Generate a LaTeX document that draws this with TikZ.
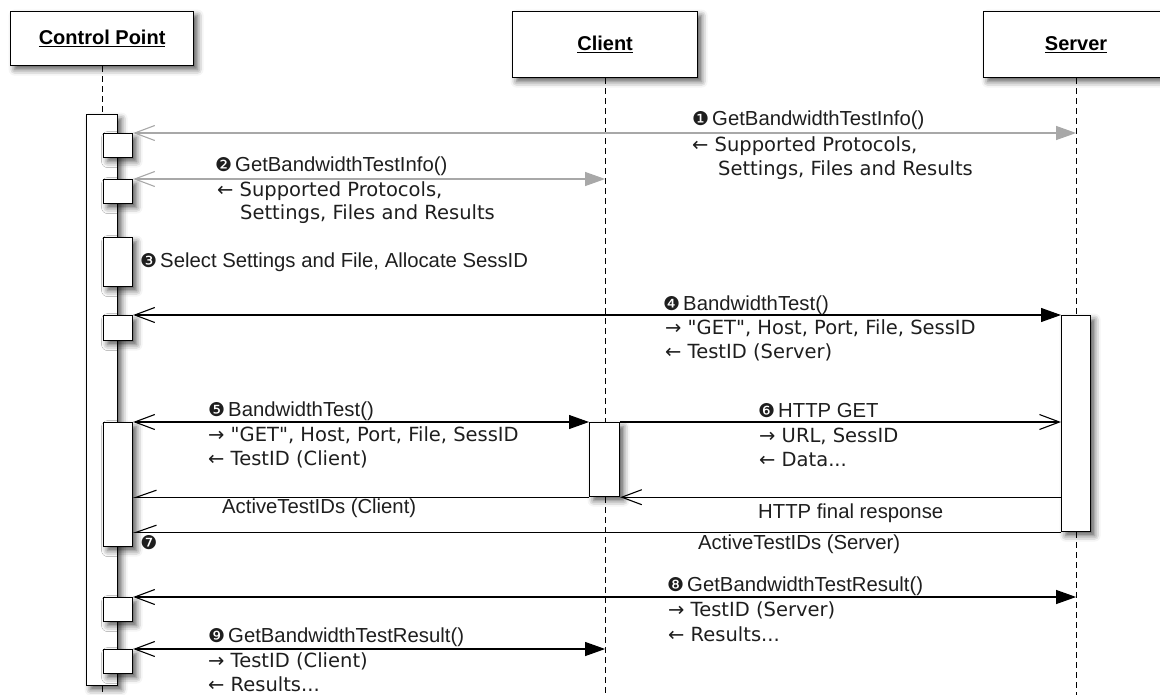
\documentclass[tikz,border=0pt]{standalone}
\usepackage{fontspec}
\setmainfont{Liberation Sans}
\newfontfamily\retfont{DejaVu Sans}
\usetikzlibrary{arrows.meta,shadows.blur}

\newcommand{\lblsize}{\fontsize{20.3}{24}\selectfont}
\newcommand{\retsize}{\fontsize{19.5}{24}\selectfont}
\newcommand{\nb}[1]{{\retfont\fontsize{19}{19}\selectfont #1}\hspace{3pt}}

\begin{document}
\begin{tikzpicture}[x=1pt, y=-1pt,
    obj/.style={draw, line width=1.2pt, fill=white, inner sep=0pt, anchor=north west,
        blur shadow={shadow xshift=4pt, shadow yshift=-4pt, shadow blur radius=6pt, shadow opacity=65}},
    head/.style={obj, font=\bfseries\fontsize{20}{24}\selectfont},
    life/.style={line width=1pt, dash pattern=on 6pt off 4pt},
    msg/.style={line width=1.1pt},
    lbl/.style={anchor=base west, inner sep=0pt, text=textgray, font=\lblsize},
    ret/.style={lbl, font=\retfont\retsize},
    OpenTip/.tip={Straight Barb[length=20pt, width=15pt]},
    FullTip/.tip={Triangle[length=20pt, width=14pt]},
    HalfTip/.tip={Straight Barb[right, length=20pt, width=14pt]}]
    \definecolor{msggray}{RGB}{168, 168, 168}
    \definecolor{textgray}{RGB}{30, 30, 30}

    \useasboundingbox (0,0) rectangle (1160,694);
    \clip (0,0) rectangle (1160,694);

    % Object heads
    \node[head, minimum width=183, minimum height=54] (cp) at (10,11) {\underline{Control Point}};
    \node[head, minimum width=185, minimum height=66] (cl) at (512,11) {\underline{Client}};
    \node[head, minimum width=185, minimum height=66] (sv) at (983,11) {\underline{Server}};

    % Activation bars
    \node[obj, minimum width=31, minimum height=571] (cpbar) at (86,114) {};
    \node[obj, minimum width=30, minimum height=74] (cb) at (589,422) {};
    \node[obj, minimum width=29, minimum height=216] (sb) at (1061,315) {};

    % Lifelines
    \draw[life] (cp.south) -- (cpbar.north);
    \draw[life] (cpbar.south) -- ++(0,12);
    \draw[life] (cl.south) -- (cl.south |- cb.north);
    \draw[life] (cl.south |- cb.south) -- (cl.south |- 0,700);
    \draw[life] (sv.south) -- (sv.south |- sb.north);
    \draw[life] (sv.south |- sb.south) -- (sv.south |- 0,700);

    % Control point steps
    \node[obj, minimum width=29, minimum height=24] (b1) at (103,133) {};
    \node[obj, minimum width=29, minimum height=24] (b2) at (103,179) {};
    \node[obj, minimum width=29, minimum height=49] (b3) at (103,237) {};
    \node[obj, minimum width=29, minimum height=25] (b4) at (103,315) {};
    \node[obj, minimum width=29, minimum height=124] (b5) at (103,422) {};
    \node[obj, minimum width=29, minimum height=24] (b6) at (103,597) {};
    \node[obj, minimum width=29, minimum height=24] (b7) at (103,649) {};

    % Messages
    \draw[msg, msggray, {OpenTip}-{FullTip}] (b1.north east) -- (sv.south |- b1.north);
    \draw[msg, msggray, {OpenTip}-{FullTip}] (b2.north east) -- (cl.south |- b2.north);
    \draw[msg, {OpenTip}-{FullTip}] (b4.north east) -- (sb.north west);
    \draw[msg, {OpenTip}-{FullTip}] (b5.north east) -- (cb.north west);
    \draw[msg, -{OpenTip}] (cb.north east) -- (sb.west |- cb.north);
    \draw[msg, -{OpenTip}] (sb.west |- cb.south) -- (cb.south east);
    \draw[msg, -{HalfTip}] (cb.south west) -- (b5.east |- cb.south);
    \draw[msg, -{HalfTip}] (sb.south west) -- (b5.east |- sb.south);
    \draw[msg, {OpenTip}-{FullTip}] (b6.north east) -- (sv.south |- b6.north);
    \draw[msg, {OpenTip}-{FullTip}] (b7.north east) -- (cl.south |- b7.north);

    % Labels
    \node[lbl] (m1a) at (692,125) {\nb{❶}GetBandwidthTestInfo()};
    \node[ret] (m1b) at (692,151) {← Supported Protocols,};
    \node[ret] (m1c) at (718,175) {Settings, Files and Results};

    \node[lbl] (m2a) at (215,171) {\nb{❷}GetBandwidthTestInfo()};
    \node[ret] (m2b) at (217,196) {← Supported Protocols,};
    \node[ret] (m2c) at (240,219) {Settings, Files and Results};

    \node[lbl] (m3a) at (140,267) {\nb{❸}Select Settings and File, Allocate SessID};

    \node[lbl] (m4a) at (663,310) {\nb{❹}BandwidthTest()};
    \node[ret] (m4b) at (665,334) {→ "GET", Host, Port, File, SessID};
    \node[ret] (m4c) at (665,358) {← TestID (Server)};

    \node[lbl] (m5a) at (208,416) {\nb{❺}BandwidthTest()};
    \node[ret] (m5b) at (208,441) {→ "GET", Host, Port, File, SessID};
    \node[ret] (m5c) at (208,465) {← TestID (Client)};

    \node[lbl] (m6a) at (758,417) {\nb{❻}HTTP GET};
    \node[ret] (m6b) at (759,442) {→ URL, SessID};
    \node[ret] (m6c) at (759,466) {← Data...};

    \node[lbl] (fin) at (758,518) {HTTP final response};
    \node[lbl] (actc) at (222,513) {ActiveTestIDs (Client)};
    \node[text=textgray, inner sep=0pt, font=\retfont\fontsize{19}{19}\selectfont] (m7) at (149,543) {❼};
    \node[lbl] (acts) at (698,549) {ActiveTestIDs (Server)};

    \node[lbl] (m8a) at (667,591) {\nb{❽}GetBandwidthTestResult()};
    \node[ret] (m8b) at (668,616) {→ TestID (Server)};
    \node[ret] (m8c) at (668,641) {← Results...};

    \node[lbl] (m9a) at (208,642) {\nb{❾}GetBandwidthTestResult()};
    \node[ret] (m9b) at (208,667) {→ TestID (Client)};
    \node[ret] (m9c) at (208,691) {← Results...};
\end{tikzpicture}
\end{document}
